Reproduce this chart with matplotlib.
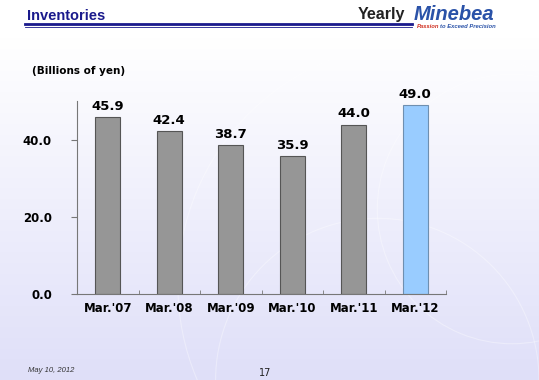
import numpy as np
import matplotlib.pyplot as plt
from matplotlib.patches import Arc

categories = ["Mar.'07", "Mar.'08", "Mar.'09", "Mar.'10", "Mar.'11", "Mar.'12"]
values = [45.9, 42.4, 38.7, 35.9, 44.0, 49.0]
yticks = [0, 20, 40]

fig = plt.figure(figsize=(5.39, 3.80), dpi=100)

# background gradient (white -> lavender)
bg = fig.add_axes([0, 0, 1, 1], zorder=-10)
grad = np.linspace(0, 1, 256).reshape(-1, 1)
top = np.array([1.0, 1.0, 1.0])
bot = np.array([0.875, 0.875, 0.975])
img = top + (bot - top) * np.clip((grad - 0.1) / 0.9, 0, 1)[..., None]
img = np.repeat(img, 2, axis=1)
bg.imshow(img, aspect='auto', extent=[0, 1, 0, 1], origin='upper')
for cx, cy, r in [(0.78, 0.25, 0.45), (0.95, 0.45, 0.25), (0.70, 0.0, 0.30)]:
    bg.add_patch(Arc((cx, cy), 2 * r, 2 * r * 539 / 380, color='white', lw=0.8, alpha=0.35))
bg.set_xlim(0, 1)
bg.set_ylim(0, 1)
bg.axis('off')

ax = fig.add_axes([0.1429, 0.2263, 0.8275 - 0.1429, 0.733 - 0.2263])
ax.patch.set_alpha(0)
x = np.arange(len(categories))
colors = ['#969696'] * 5 + ['#99CCFF']
edges = ['#555555'] * 5 + ['#6f8fb0']
ax.bar(x, values, width=0.4, color=colors, edgecolor=edges, linewidth=0.8)
for xi, v in zip(x, values):
    ax.annotate(f'{v:.1f}', (xi, v), xytext=(0, 3), textcoords='offset points',
                ha='center', va='bottom', fontsize=9.5, fontweight='bold')

ax.set_xlim(-0.5, len(categories) - 0.5)
ax.set_ylim(0, 50)
ax.set_yticks(yticks)
ax.set_yticklabels([f'{t:.1f}' for t in yticks], fontsize=8.5, fontweight='bold')
ax.set_xticks(x)
ax.set_xticklabels(categories, fontsize=8.5, fontweight='bold')
ax.set_xticks(np.arange(-0.5, len(categories)), minor=True)
ax.tick_params(axis='x', which='major', length=0, pad=6)
ax.tick_params(axis='x', which='minor', length=3, direction='in', color='#777777')
ax.tick_params(axis='y', length=4, direction='out', color='#777777', pad=14)
for s in ['top', 'right']:
    ax.spines[s].set_visible(False)
ax.spines['left'].set_color('#777777')
ax.spines['bottom'].set_color('#777777')

# header
hdr = 'Liberation Sans'
fig.text(27 / 539, 1 - 16 / 380, 'Inventories', fontsize=10.5, fontweight='bold',
         family=hdr, color='#1a1a8c', va='center', ha='left')
fig.add_artist(plt.Line2D([25 / 539, 412 / 539], [1 - 24 / 380] * 2, color='#1a1a8c', lw=2))
fig.add_artist(plt.Line2D([25 / 539, 412 / 539], [1 - 27 / 380] * 2, color='#1a1a8c', lw=0.6))
fig.text(405 / 539, 1 - 15 / 380, 'Yearly', fontsize=11.5, fontweight='bold',
         family=hdr, color='#222222', va='center', ha='right')
fig.text(414 / 539, 1 - 14 / 380, 'Minebea', fontsize=14.5, fontweight='heavy',
         family=hdr, style='italic', color='#2a52a8', va='center', ha='left')
fig.text(417 / 539, 1 - 26 / 380, 'Passion', fontsize=4.2, fontweight='bold',
         family=hdr, style='italic', color='#d03020', va='center', ha='left')
fig.text(440 / 539, 1 - 26 / 380, 'to Exceed Precision', fontsize=4.2, fontweight='bold',
         family=hdr, style='italic', color='#2a52a8', va='center', ha='left')

fig.text(32 / 539, 1 - 71 / 380, '(Billions of yen)', fontsize=7.5, fontweight='bold',
         va='center', ha='left')

# footer
fig.text(28 / 539, 1 - 370 / 380, 'May 10, 2012', fontsize=5.5, style='italic',
         family=hdr, color='#333333', va='center', ha='left')
fig.text(265 / 539, 1 - 373 / 380, '17', fontsize=7, color='#222222', va='center', ha='center')

plt.savefig('out.png', dpi=100)
